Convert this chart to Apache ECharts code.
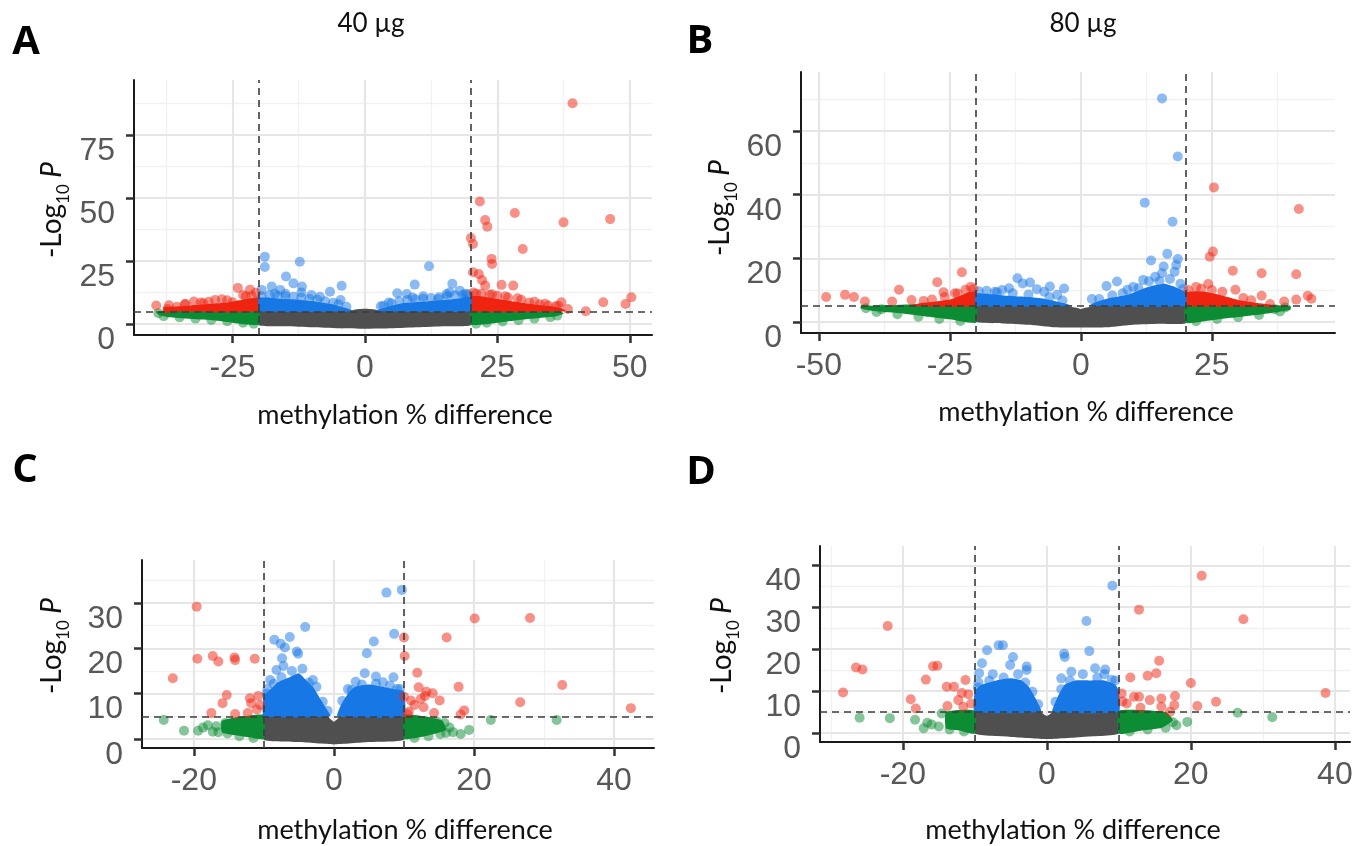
<!DOCTYPE html>
<html><head><meta charset="utf-8">
<script src="https://cdn.jsdelivr.net/npm/echarts@6/dist/echarts.min.js"></script>
<style>html,body{margin:0;padding:0;background:#fff}#c{width:1366px;height:846px}</style>
</head><body><div id="c"></div>
<script>
// ================= DATA =================
// Panel A (40 µg)
const A_xTicks = [-25, 0, 25, 50];
const A_xMinor = [-37.5, -12.5, 12.5, 37.5];
const A_yTicks = [0, 25, 50, 75];
const A_yMinor = [12.5, 37.5, 62.5, 87.5];
const A_xCut = 20, A_pCut = 5;
const A_grayArea = [[-20,5.2],[-3,5.2],[-1.5,5.8],[0,6],[1.5,5.8],[3,5.2],[20,5.2],[20,-0.5],[15,-0.9],[10,-1.3],[5,-1.7],[0,-1.9],[-5,-1.7],[-10,-1.3],[-15,-0.9],[-20,-0.5]];
const A_greenAreaL = [[-39.5,5],[-20,5.5],[-20,-0.4],[-28,1.3],[-37,2.6],[-39,3.6]];
const A_greenAreaR = [[20,5.5],[37,5],[37.5,4],[36,3],[28,1.3],[20,-0.4]];
const A_redAreaL = [[-38,5],[-38,6.6],[-35,7.0],[-32,7.5],[-29,8.0],[-26,8.5],[-24,9.3],[-22,10],[-20,10.5],[-20,5]];
const A_redAreaR = [[20,5],[20,11],[23,10.6],[26,9.6],[29,8.6],[32,7.7],[35,7.0],[37,6.3],[38,5]];
const A_blueAreaL = [[-20,5],[-20,10.2],[-18,10.4],[-16,10],[-13,9.7],[-10,9.1],[-8,8.5],[-6,7.7],[-4.5,6.8],[-3,5.9],[-2,5]];
const A_blueAreaR = [[2,5],[3,6],[5,7.2],[7,8.2],[10,8.7],[13,9.2],[16,9.7],[18,10.2],[20,10.6],[20,5]];
const A_redPts = [[-39.4,7.3],[-37.3,5.9],[-33.9,7.9],[-32.3,8.9],[-28.3,9.5],[-24,14.3],[-21.7,13.6],[-21.4,11.2],[-25,8.6],[-30.5,8.2],[-35.5,6.8],[-27,9.8],[-23,11.5],[-20.6,12.4],
  [-37,7.4],[-34,7.8],[-31,8.5],[-29.5,8.8],[-26,9.4],[-22.5,11],
  [39.2,87.6],[21.7,48.6],[28.3,44],[22.7,41.2],[23.1,38.6],[37.5,40.3],[46.3,41.6],[20,34.1],[20.4,31.7],[29.8,29.7],[23.9,25.8],[24,23.8],[20.4,20.5],[21.5,19.8],[22.1,17.4],[22.7,15.2],[25.8,15.5],[28,15.2],[37.1,8.6],[38.3,5.9],[41.7,5],[45,8.6],[49.2,7.9],[50.3,10.6],[28.8,10.2],[34.6,7.3],[31,8.5],[33,7.8],[36,7],[21,12],[24,11.8],[26.5,11],
  [20.5,12.5],[22,12],[23.5,11.6],[25,11.2],[27,10.5],[29.5,9.6],[32,8.8],[34,8],[36.5,7.2]];
const A_bluePts = [[-18.9,26.7],[-18.9,22.6],[-12.3,24.7],[-14.9,18.8],[-13.5,16.1],[-11.9,14.8],[-4.4,15.1],[-6.6,12.8],[-17.6,14.8],[-19.5,13.5],[-16,13.5],[-10.1,11.5],[-8.5,10.8],[-4.6,9.5],[-15,12],[-12,12.5],[-17,12],
  [-19.5,11],[-18,11.5],[-16.5,11.2],[-15,11],[-13.5,10.8],[-12,10.5],[-10.5,10],[-9,9.6],[-7.5,9],[-6,8.4],[-5,7.8],[-3.5,6.8],
  [12.1,22.9],[9.4,15.6],[16.5,15.9],[17.9,13.2],[15.4,11.9],[6.1,12.2],[7.9,11.9],[13.8,9.9],[18.8,9.9],[19,12],[11,11],[4.5,8.5],[3,7],[9,10.5],[16,12.5],
  [3.5,7.2],[5,8.2],[6.5,9],[8,9.5],[9.5,9.8],[11,10],[12.5,10.3],[14,10.6],[15.5,11],[17,11.4],[18.5,11.6],[19.5,11.8]];
const A_greenPts = [[36.3,3.3],[-39,4.2],[-38,3.1],[-35,2.6],[-32,2.1],[-29,1.6],[-26,1.1],[-23,0.5],[-21,0.1],[21,0.1],[23,0.5],[26,1.0],[29,1.5],[32,2.1],[35,2.7]];

// Panel B (80 µg)
const B_xTicks = [-50, -25, 0, 25];
const B_xMinor = [-37.5, -12.5, 12.5, 37.5];
const B_yTicks = [0, 20, 40, 60];
const B_yMinor = [10, 30, 50, 70];
const B_xCut = 20, B_pCut = 5;
const B_grayArea = [[-20,5],[-3,5],[-1,4.5],[0,4],[1,4.5],[3,5],[20,5],[20,-0.4],[15,-0.6],[10,-0.9],[5,-1.7],[0,-1.8],[-5,-1.7],[-10,-0.9],[-15,-0.5],[-20,0]];
const B_greenAreaL = [[-42,5],[-20,5.5],[-20,-0.3],[-25,0.8],[-30,1.8],[-35,2.8],[-40,3.5],[-42,4.2]];
const B_greenAreaR = [[20,5.5],[40,5],[40,3.8],[35,2.5],[30,1.5],[25,0.5],[20,-0.3]];
const B_redAreaL = [[-33,5],[-31,5.8],[-28,6.3],[-25,7],[-23,8.2],[-21.5,9.3],[-20,9.6],[-20,5]];
const B_redAreaR = [[20,5],[20,9.2],[22,9.6],[24,9.4],[26,8.7],[28,7.8],[30,6.9],[33,6.1],[36,5.5],[38,5]];
const B_blueAreaL = [[-20,5],[-20,8.9],[-17,8.7],[-14,8.2],[-10,7.8],[-7,7.3],[-5,6.6],[-3,5.8],[-1.5,5]];
const B_blueAreaR = [[1.5,5],[3,6.3],[5,7.3],[8,8.2],[10,9.2],[12,10.5],[14,11.5],[16,12],[18,11],[20,9.2],[20,5]];
const B_redPts = [[-48.6,7.8],[-45,8.5],[-43.3,7.8],[-41.2,6.4],[-34.7,10.1],[-27.4,12.5],[-26.2,9.3],[-22.7,15.6],[-22,10.1],[-32.3,6.9],[-36,6.4],[-28.4,7],[-24,9],[-21,11],
  [-30,6.6],[-26,7.8],[-23.5,8.9],[-20.5,10.3],
  [25.4,42.3],[41.6,35.5],[25.2,22.1],[24.6,20.5],[29,16.1],[34.5,15.3],[41.1,15],[24.3,11.9],[29.5,10.1],[34.5,8.2],[43.3,8.2],[44,7.3],[41.1,7],[38.8,6.4],[36.1,5.6],[22,11],[27,9.5],[31,7.5],
  [20.5,10],[23,10.4],[25,10],[32.5,6.8]];
const B_bluePts = [[15.5,70.3],[18.5,52],[12.2,37.5],[17.5,31.5],[16.5,21.4],[13.4,19.3],[18.5,19.8],[15.8,17.4],[18.2,17.9],[15.5,15.3],[17.9,15.8],[14.2,14.2],[11.9,13.2],
  [-12.1,13.7],[-9.7,12.4],[-13.7,10.6],[-5.9,11.1],[-3.2,10.5],[-8.4,10.3],[-11.1,12.1],[-16.4,9.5],[4.9,11.3],[6.9,12.7],[8.9,10.1],[2.1,7.2],[-18,9.8],[-15,10],[10,11],[13,12.8],[17,13.5],[19,12],[-7,9.5],[-4.5,8.5],
  [-19.5,9.6],[-16,9.3],[-13,9],[-10,8.6],[-6,7.8],[-3.5,6.7],[3.5,7.2],[6,8.3],[8,9],[11,10.6],[15,12.8],[19.5,10.3]];
const B_greenPts = [[-41,4.3],[-38,4],[39,4.5],[37,4],[-39,3.1],[-35,2.4],[-31,1.6],[-27,0.9],[-23,0.3],[22,0.2],[26,0.9],[30,1.5],[34,2.2],[38,3.3]];

// Panel C
const C_xTicks = [-20, 0, 20, 40];
const C_xMinor = [-10, 10, 30];
const C_yTicks = [0, 10, 20, 30];
const C_yMinor = [5, 15, 25, 35];
const C_xCut = 10, C_pCut = 5;
const C_grayArea = [[-10,5],[-1,5],[0,3.8],[1,5],[10,5],[10,-0.2],[5,-0.7],[0,-1.2],[-5,-0.7],[-10,-0.2]];
const C_greenAreaL = [[-16,4],[-13,5],[-10,5.3],[-10,0],[-12,0.3],[-14,0.8],[-16,1.5]];
const C_greenAreaR = [[10,5.3],[13,5],[15.5,4],[16,2],[14,1],[12,0.3],[10,0]];
const C_blueAreaL = [[-10,5],[-10,9.5],[-9,11],[-8,12.5],[-6.5,13.5],[-5,14.5],[-4,13],[-3,11.5],[-2,9],[-1,6.5],[-0.5,5]];
const C_blueAreaR = [[0.5,5],[1,7.5],[2,10],[3,11.5],[5,12],[7,11.5],[8.5,11],[10,10.5],[10,5]];
const C_redPts = [[-19.6,29.2],[-23,13.4],[-19.5,17.7],[-17.3,18.3],[-16.5,17.1],[-14.2,18],[-14.1,17.4],[-11.3,17.7],[-15.3,9.7],[-15.9,7.9],[-17.5,5.7],[-11.8,7.9],[-10.8,9.5],[-12.3,5.7],[-14.1,5.5],[-11,6.5],[-12,9],[-10.5,7.5],
  [10,22.4],[10.1,18.3],[16.1,22.4],[20.1,26.6],[28,26.7],[32.6,11.9],[26.6,8.1],[42.4,6.8],[11.9,14.6],[17.8,11.5],[12.1,11.4],[13.2,10.4],[14.1,10.1],[15.1,8.5],[12.4,8.8],[11.5,7.5],[10,9.3],[14.3,5.7],[18.6,6.3],[18.1,5.4],[10.7,6],[13,9.5],[11,8.5],[12.8,7],[10.5,5.5]];
const C_bluePts = [[9.7,32.9],[7.5,32.3],[-4.1,24.7],[8.6,23.2],[5.7,21.5],[-8.5,21.9],[-6.3,22.5],[-7.6,21],[-7,20.2],[-5.3,19.3],[-5.1,18.8],[4.7,18.9],[-7.4,17.8],[-7.2,16.1],[4.4,14.5],[6,13.8],[8.5,13.6],[-9.1,13],[-8.2,15.2],[3.1,12.6],[-6,15],[-4.5,15.5],[-3,13],[-9.5,11],[7,12.5],[9,11],[9.5,9],[2,11],[-2.5,11.5],
  [-9.6,10],[-8.6,12.2],[-7.5,13.6],[-3.6,12.4],[-1.6,8.2],[-0.9,6.2],[1.2,8.4],[2.5,10.8],[4,12],[6,12.2],[8,11.8],[9.4,11]];
const C_greenPts = [[-24.3,4.2],[-21.4,1.8],[-19.4,1.8],[-18.7,2.5],[-18,3],[-17.3,1.6],[-16.5,1.5],[-16.8,2.8],[-15.5,3.5],[22.4,4.2],[31.8,4.2],[19.3,2.0],[18.1,1.1],[16.5,2.5],[15.8,3.5],[17,1.5],[14.7,3.8],[16,1.3],
  [-15.2,1.2],[-13.5,0.6],[-11.5,0.2],[11.5,0.2],[13.5,0.6],[15.2,1.1]];

// Panel D
const D_xTicks = [-20, 0, 20, 40];
const D_xMinor = [-30, -10, 10, 30];
const D_yTicks = [0, 10, 20, 30, 40];
const D_yMinor = [5, 15, 25, 35];
const D_xCut = 10, D_pCut = 5;
const D_grayArea = [[-10,5],[-1,5],[0,4],[1,5],[10,5],[10,-0.2],[5,-1],[0,-1.5],[-5,-1],[-10,-0.2]];
const D_greenAreaL = [[-14,5],[-10,5.3],[-10,-0.2],[-12,0.5],[-14,1]];
const D_greenAreaR = [[10,5.3],[16.5,5],[17.5,3],[16,1.2],[13,0.5],[10,-0.2]];
const D_blueAreaL = [[-10,5],[-10,10],[-9,11.5],[-7,12.5],[-5,13],[-3.5,12.5],[-2.5,11],[-1.5,8],[-0.8,5]];
const D_blueAreaR = [[0.8,5],[1.5,8.5],[2.5,11.5],[4,12.5],[6,12.5],[8,12.5],[9.5,11.5],[10,10],[10,5]];
const D_redPts = [[-28.3,9.6],[-26.5,15.6],[-25.6,15.1],[-22.1,25.5],[-18.9,8],[-18.2,5.8],[-16.8,12.7],[-15.8,15.9],[-15.2,16],[-13.9,11],[-12.9,11],[-13.8,6.4],[-11.3,12.6],[-12.3,7.8],[-10.9,9.2],[-11.6,6.2],[-10.5,7],[-11.8,9.5],
  [10.4,9.4],[11.6,13.2],[12.8,29.4],[14,13.6],[15.2,14.2],[15.6,17.2],[20,11.9],[21.5,37.5],[27.3,27.1],[38.7,9.5],[20.9,6.4],[23.5,7.4],[12.1,8.6],[12.8,8.6],[14.3,7.8],[15.9,8.2],[17.8,8.8],[17.7,6.6],[17.1,5],[11.1,7],[15.9,6.2],[10.5,7.5],[13,6]];
const D_bluePts = [[9.1,35.1],[5.5,26.7],[5.9,19.5],[2.4,18.9],[2.5,18.1],[-6.7,20.9],[-6.1,20.9],[-8.3,19.7],[-4.7,18.1],[-9,16.6],[-9.4,14.2],[-5.1,16.2],[-2.8,15.8],[-2.8,15],[8.1,15.1],[6.7,15.4],[3.4,14.6],[8,14],[-7.5,14],[-4,14],[5,14],[9.5,12.5],[-9.5,12],[2,13],
  [-9.6,10.8],[-8,12.4],[-6,13.2],[-3,12],[-2,9.8],[-1.2,6.8],[1.2,7.4],[2,10.4],[3.2,12.4],[7,13.2],[9,12.6]];
const D_greenPts = [[-26,3.6],[-21.8,3.5],[-18.3,3.1],[-17.1,1.1],[-16.6,2.4],[-14.6,4.6],[-16,2],[-15,1.5],[19.5,2.6],[26.5,4.8],[31.3,3.7],[17.5,2.5],[18,1.8],[16.5,1.2],
  [-13.5,0.8],[-11.5,0.3],[11.5,0.3],[14,0.8]];

const panelTitles = ['40 µg', '80 µg', '', ''];
const panelLetters = ['A', 'B', 'C', 'D'];
const xTitle = 'methylation % difference';

// ================= LAYOUT / STYLE =================
const COL = {gray:'#4f4f4f', green:'#0c8c33', blue:'#1778e5', red:'#ef2410'};
const FT = "'Liberation Sans', Arial, sans-serif";
const FX = "Lato, 'Open Sans', sans-serif";
const layout = [
  {left:134, top:80, width:518, height:255, xMin:-43.6, xMax:54.2, yMin:-4.4, yMax:96.8, title:[371,24], letter:[26,43], xName:[405,415], yName:[52,210]},
  {left:801, top:72, width:534, height:261, xMin:-53.4, xMax:48.5, yMin:-3.5, yMax:78.6, title:[1083,24], letter:[700,42], xName:[1086,412], yName:[720,208]},
  {left:142, top:560, width:512, height:188, xMin:-27.4, xMax:45.7, yMin:-2.0, yMax:39.5, title:[0,0], letter:[25,471], xName:[405,830], yName:[52,646]},
  {left:820, top:546, width:530, height:196, xMin:-31.5, xMax:42.1, yMin:-2.2, yMax:44.6, title:[0,0], letter:[701,473], xName:[1073,830], yName:[722,646]}
];

const panels = [
  {xT:A_xTicks,xM:A_xMinor,yT:A_yTicks,yM:A_yMinor,cut:A_xCut,p:A_pCut,
   areas:[['gray',A_grayArea],['green',A_greenAreaL],['green',A_greenAreaR],['red',A_redAreaL],['red',A_redAreaR],['blue',A_blueAreaL],['blue',A_blueAreaR]],
   pts:[['green',A_greenPts],['blue',A_bluePts],['red',A_redPts]]},
  {xT:B_xTicks,xM:B_xMinor,yT:B_yTicks,yM:B_yMinor,cut:B_xCut,p:B_pCut,
   areas:[['gray',B_grayArea],['green',B_greenAreaL],['green',B_greenAreaR],['red',B_redAreaL],['red',B_redAreaR],['blue',B_blueAreaL],['blue',B_blueAreaR]],
   pts:[['green',B_greenPts],['blue',B_bluePts],['red',B_redPts]]},
  {xT:C_xTicks,xM:C_xMinor,yT:C_yTicks,yM:C_yMinor,cut:C_xCut,p:C_pCut,
   areas:[['gray',C_grayArea],['green',C_greenAreaL],['green',C_greenAreaR],['blue',C_blueAreaL],['blue',C_blueAreaR]],
   pts:[['green',C_greenPts],['blue',C_bluePts],['red',C_redPts]]},
  {xT:D_xTicks,xM:D_xMinor,yT:D_yTicks,yM:D_yMinor,cut:D_xCut,p:D_pCut,
   areas:[['gray',D_grayArea],['green',D_greenAreaL],['green',D_greenAreaR],['blue',D_blueAreaL],['blue',D_blueAreaR]],
   pts:[['green',D_greenPts],['blue',D_bluePts],['red',D_redPts]]}
];

const grids = [], xAxes = [], yAxes = [], series = [], graphics = [];

function polySeries(i, poly, color){
  return {type:'custom', xAxisIndex:i, yAxisIndex:i, data:poly, silent:true, z:2,
    encode:{x:0, y:1},
    renderItem:function(params, api){
      if (params.dataIndex !== 0) return null;
      const pts = poly.map(function(p){ return api.coord(p); });
      return {type:'polygon', shape:{points:pts, smooth:0.15}, style:{fill:color}};
    }};
}

panels.forEach(function(P, i){
  const L = layout[i];
  grids.push({left:L.left, top:L.top, width:L.width, height:L.height});
  xAxes.push({gridIndex:i, type:'value', min:L.xMin, max:L.xMax,
    axisLine:{show:true, onZero:false, lineStyle:{color:'#1a1a1a', width:2}},
    axisTick:{show:true, customValues:P.xT, length:8, lineStyle:{color:'#333', width:2.5}},
    axisLabel:{show:true, customValues:P.xT, margin:17, fontSize:32, fontFamily:FT, color:'#585858'},
    splitLine:{show:false}});
  yAxes.push({gridIndex:i, type:'value', min:L.yMin, max:L.yMax,
    axisLine:{show:true, onZero:false, lineStyle:{color:'#1a1a1a', width:2}},
    axisTick:{show:true, customValues:P.yT, length:8, lineStyle:{color:'#333', width:2.5}},
    axisLabel:{show:true, customValues:P.yT, margin:19, fontSize:32, fontFamily:FT, color:'#585858', verticalAlign:'top'},
    splitLine:{show:false}});
  const gl = [];
  P.xM.forEach(function(v){ gl.push({xAxis:v, lineStyle:{color:'#F1F1F1', width:1.3, type:'solid'}}); });
  P.yM.forEach(function(v){ gl.push({yAxis:v, lineStyle:{color:'#F1F1F1', width:1.3, type:'solid'}}); });
  P.xT.forEach(function(v){ gl.push({xAxis:v, lineStyle:{color:'#E6E6E6', width:2.2, type:'solid'}}); });
  P.yT.forEach(function(v){ gl.push({yAxis:v, lineStyle:{color:'#E6E6E6', width:2.2, type:'solid'}}); });
  series.push({type:'line', xAxisIndex:i, yAxisIndex:i, data:[], silent:true, z:0,
    markLine:{silent:true, z:0, symbol:['none','none'], label:{show:false}, data:gl}});
  P.areas.forEach(function(a){ series.push(polySeries(i, a[1], COL[a[0]])); });
  P.pts.forEach(function(a){
    series.push({type:'scatter', xAxisIndex:i, yAxisIndex:i, data:a[1], symbolSize:10, silent:true, z:3,
      itemStyle:{color:COL[a[0]], opacity:0.5}});
  });
  series.push({type:'line', xAxisIndex:i, yAxisIndex:i, data:[], silent:true, z:10,
    markLine:{silent:true, z:10, symbol:['none','none'], label:{show:false},
      lineStyle:{color:'#3c3c3c', width:1.6, type:[7,5]},
      data:[{xAxis:-P.cut},{xAxis:P.cut},{yAxis:P.p}]}});

  if (panelTitles[i]) graphics.push({type:'text', x:L.title[0], y:L.title[1],
    style:{text:panelTitles[i], fontSize:26, fontFamily:FX, fill:'#111', align:'center', verticalAlign:'middle'}});
  graphics.push({type:'text', x:L.letter[0], y:L.letter[1],
    style:{text:panelLetters[i], fontSize:40, fontWeight:'bold', fontFamily:"'Open Sans', sans-serif", fill:'#000', align:'center', verticalAlign:'middle'}});
  graphics.push({type:'text', x:L.xName[0], y:L.xName[1],
    style:{text:xTitle, fontSize:27, fontFamily:FX, fill:'#111', align:'center', verticalAlign:'middle'}});
  graphics.push({type:'text', x:L.yName[0], y:L.yName[1], rotation:Math.PI/2,
    style:{text:'{a|-Log}{b|10}{c| P}', align:'center', verticalAlign:'middle', fill:'#111',
      rich:{a:{fontSize:28, fontFamily:FX, lineHeight:40, verticalAlign:'middle', fill:'#111'},
            b:{fontSize:17, fontFamily:FX, lineHeight:40, verticalAlign:'bottom', fill:'#111'},
            c:{fontSize:28, fontFamily:FX, fontStyle:'italic', lineHeight:40, verticalAlign:'middle', fill:'#111'}}}});
});

const chart = echarts.init(document.getElementById('c'), null, {renderer:'canvas'});
chart.setOption({animation:false, backgroundColor:'#fff', grid:grids, xAxis:xAxes, yAxis:yAxes, series:series, graphic:graphics});
</script></body></html>
